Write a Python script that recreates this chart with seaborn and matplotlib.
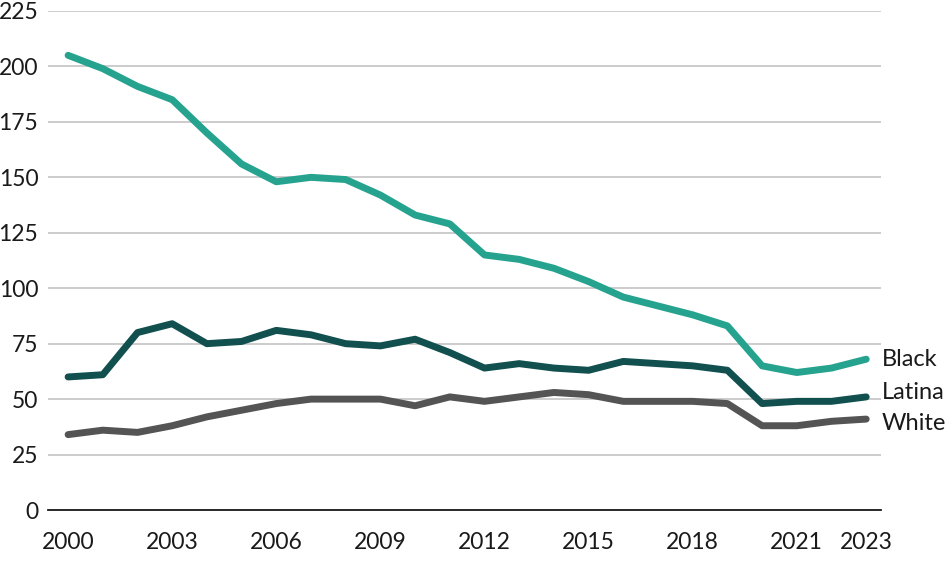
import matplotlib
matplotlib.use("Agg")
import matplotlib.pyplot as plt
import seaborn as sns
import pandas as pd

years = list(range(2000, 2024))

black = [205, 199, 191, 185, 170, 156, 148, 150, 149, 142, 133, 129,
         115, 113, 109, 103, 96, 92, 88, 83, 65, 62, 64, 68]
latina = [60, 61, 80, 84, 75, 76, 81, 79, 75, 74, 77, 71,
          64, 66, 64, 63, 67, 66, 65, 63, 48, 49, 49, 51]
white = [34, 36, 35, 38, 42, 45, 48, 50, 50, 50, 47, 51,
         49, 51, 53, 52, 49, 49, 49, 48, 38, 38, 40, 41]

groups = ["Black", "Latina", "White"]
colors = {"Black": "#26a38f", "Latina": "#11504f", "White": "#545454"}
xticks = [2000, 2003, 2006, 2009, 2012, 2015, 2018, 2021, 2023]
yticks = [0, 25, 50, 75, 100, 125, 150, 175, 200, 225]

df = pd.DataFrame({
    "year": years * 3,
    "value": black + latina + white,
    "group": ["Black"] * 24 + ["Latina"] * 24 + ["White"] * 24,
})

sns.set_style("white")
plt.rcParams["font.family"] = ["Lato", "DejaVu Sans"]

fig = plt.figure(figsize=(9.5, 5.63), dpi=100)
ax = fig.add_axes([0.0505, 0.0941, 0.877, 0.8864])

sns.lineplot(data=df, x="year", y="value", hue="group", palette=colors,
             linewidth=5, legend=False, ax=ax, solid_capstyle="round")

ax.set_xlim(1999.42, 2023.43)
ax.set_ylim(0, 225)
ax.set_xticks(xticks)
ax.set_yticks(yticks)
ax.tick_params(axis="both", labelsize=16.5, length=0, colors="#1a1a1a")
ax.tick_params(axis="x", pad=16)
ax.tick_params(axis="y", pad=7)
ax.yaxis.grid(True, color="#c8c8c8", linewidth=1.3)
ax.set_axisbelow(True)
ax.set_xlabel("")
ax.set_ylabel("")

for s in ["top", "right", "left"]:
    ax.spines[s].set_visible(False)
ax.spines["bottom"].set_color("#1a1a1a")
ax.spines["bottom"].set_linewidth(1.3)

last = {"Black": black[-1], "Latina": latina[-1], "White": white[-1]}
offsets = {"Black": 0, "Latina": 2.2, "White": -2.2}
for g in groups:
    ax.text(2023.45, last[g] + offsets[g], g, fontsize=17, va="center",
            ha="left", color="#1a1a1a", clip_on=False)

fig.savefig("out.png", dpi=100)
